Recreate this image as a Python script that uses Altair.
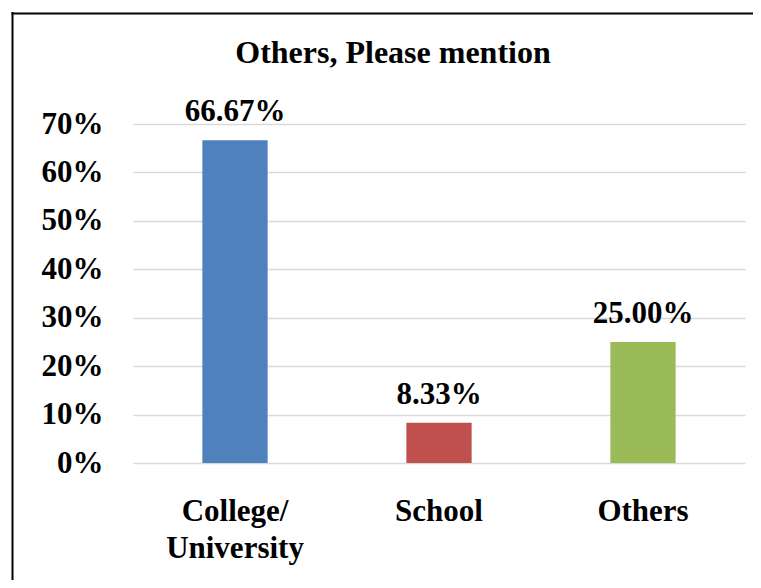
import altair as alt
import pandas as pd

categories = ["College/ University", "School", "Others"]
values = [0.6667, 0.0833, 0.25]
labels = ["66.67%", "8.33%", "25.00%"]
colors = ["#4F81BD", "#C0504D", "#9BBB59"]
title_text = "Others, Please mention"

df = pd.DataFrame({"cat": categories, "val": values, "lab": labels, "color": colors})

FONT = "Liberation Serif"

base = alt.Chart(df).encode(
    x=alt.X(
        "cat:N",
        sort=categories,
        title=None,
        scale=alt.Scale(paddingInner=0.68, paddingOuter=0.34),
        axis=alt.Axis(
            labelAngle=0,
            labelFont=FONT,
            labelFontSize=31,
            labelFontWeight="bold",
            labelColor="#000000",
            labelBaseline="alphabetic",
            labelPadding=57,
            labelLineHeight=37,
            labelExpr="split(datum.label, ' ')",
            ticks=False,
            tickSize=0,
            domain=False,
            grid=False,
        ),
    ),
)

bars = base.mark_bar().encode(
    y=alt.Y(
        "val:Q",
        title=None,
        scale=alt.Scale(domain=[0, 0.7], nice=False),
        axis=alt.Axis(
            format=".0%",
            values=[0, 0.1, 0.2, 0.3, 0.4, 0.5, 0.6, 0.7],
            labelFont=FONT,
            labelFontSize=31,
            labelFontWeight="bold",
            labelColor="#000000",
            labelPadding=30,
            labelBaseline="middle",
            ticks=False,
            tickSize=0,
            domain=False,
            grid=True,
            gridColor="#D9D9D9",
            gridWidth=1.5,
        ),
    ),
    color=alt.Color("color:N", scale=None, legend=None),
)

text = base.mark_text(
    font=FONT, fontSize=31, fontWeight="bold", color="#000000",
    baseline="alphabetic", dy=-19,
).encode(y="val:Q", text="lab:N")

single = alt.Data(values=[{"t": title_text}])
title_mark = alt.Chart(single).mark_text(
    font=FONT, fontSize=32, fontWeight="bold", color="#000000",
    baseline="alphabetic", align="center",
).encode(x=alt.value(260), y=alt.value(-61), text="t:N")

left_line = alt.Chart(single).mark_rule(color="#000000", strokeWidth=2).encode(
    x=alt.value(-120.5), y=alt.value(-112), y2=alt.value(470)
)
top_line = alt.Chart(single).mark_rule(color="#000000", strokeWidth=2).encode(
    x=alt.value(-121.5), x2=alt.value(640), y=alt.value(-110.5)
)

chart = alt.layer(bars, text, title_mark, left_line, top_line).properties(
    width=612,
    height=339,
    autosize=alt.AutoSizeParams(type="none"),
    padding={"left": 125, "top": 116, "right": 8, "bottom": 117},
).configure_view(stroke=None)

chart.save("out.html", embed_options={"renderer": "svg", "actions": False})
